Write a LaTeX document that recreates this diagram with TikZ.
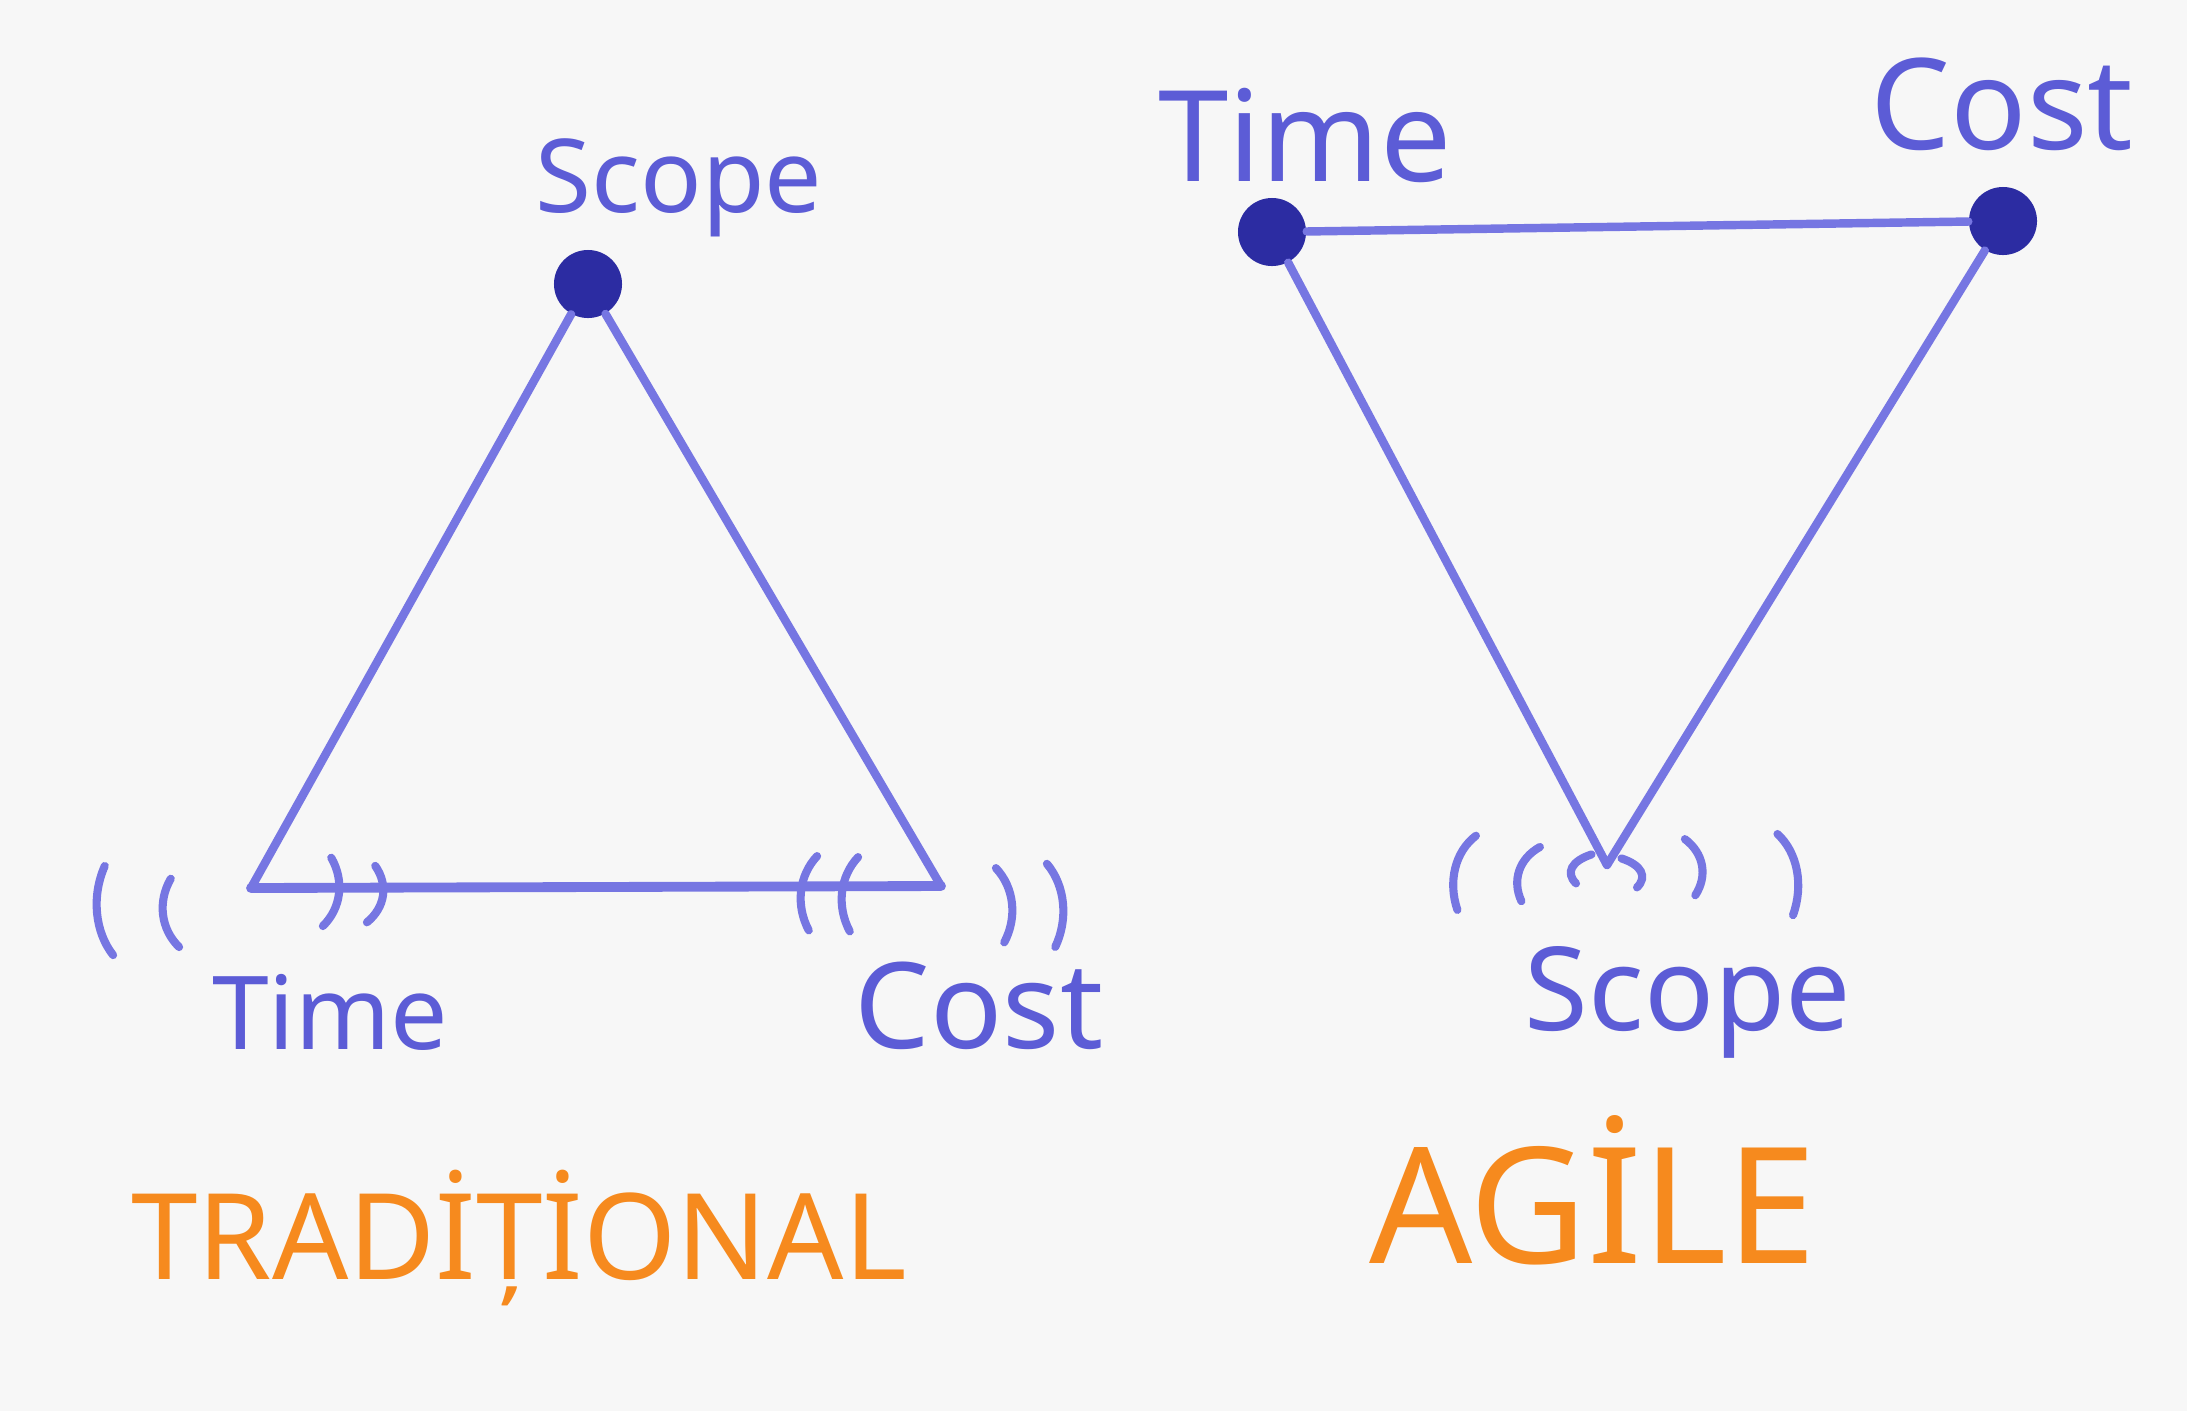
\documentclass[tikz,border=0pt]{standalone}
\usepackage{fontspec}
\setmainfont{Noto Sans}
\definecolor{paper}{HTML}{F7F7F7}
\definecolor{ink}{HTML}{7676E2}
\definecolor{inktext}{HTML}{5C5CD6}
\definecolor{inkdark}{HTML}{2C2CA2}
\definecolor{marker}{HTML}{F68A1E}
\tikzset{
  edge/.style={draw=ink, line width=2.4pt, line cap=round},
  vdot/.style={circle, fill=inkdark, minimum size=0.68cm, inner sep=0pt},
  paren/.style={draw=ink, line width=2.3pt, line cap=round},
  lbl/.style={text=inktext, inner sep=0pt},
  title/.style={text=marker, inner sep=0pt},
  lpar/.pic={\draw[paren] (7,-30) .. controls (-9,-12) and (-9,12) .. (7,30);},
  rpar/.pic={\draw[paren] (-7,-30) .. controls (9,-12) and (9,12) .. (-7,30);}
}
\begin{document}
\begin{tikzpicture}[x=0.01cm, y=-0.01cm]
\fill[paper] (0,0) rectangle (2187,1411);
\useasboundingbox (0,0) rectangle (2187,1411);

% ---------- Traditional triangle ----------
\node[vdot] (tS) at (588,284) {};
\coordinate (tT) at (251,888);
\coordinate (tC) at (941,886);
\draw[edge] (tS) -- (tT);
\draw[edge] (tS) -- (tC);
\draw[edge, line width=2.8pt] (tT) -- (tC);

\node[lbl, font=\fontsize{29}{34}\selectfont] (tSl) at (679,188) {Scope};
\node[lbl, font=\fontsize{29}{34}\selectfont] (tTl) at (330,1012) {Time};
\node[lbl, font=\fontsize{34}{40}\selectfont] (tCl) at (979,1006) {Cost};

% vibration marks, left vertex
\pic[yscale=1.5, rotate=8] at (102,912) {lpar};
\pic[yscale=1.15, rotate=8] at (168,914) {lpar};
\pic[yscale=1.15, rotate=-8] at (334,893) {rpar};
\pic[yscale=0.95, rotate=-8] at (378,895) {rpar};
% vibration marks, right vertex
\pic[yscale=1.25, rotate=-8] at (806,892) {lpar};
\pic[yscale=1.25, rotate=-8] at (847,893) {lpar};
\pic[yscale=1.25, rotate=8] at (1007,904) {rpar};
\pic[yscale=1.4, rotate=8] at (1058,904) {rpar};

\node[title, font=\fontsize{34}{40}\selectfont] (tTitle) at (519,1238) {TRADİȚİONAL};

% ---------- Agile triangle ----------
\node[vdot] (aT) at (1272,232) {};
\node[vdot] (aC) at (2003,221) {};
\coordinate (aS) at (1607,865);
\draw[edge] (aT) -- (aC);
\draw[edge] (aT) -- (aS);
\draw[edge] (aC) -- (aS);

\node[lbl, font=\fontsize{36}{42}\selectfont] (aTl) at (1305,135) {Time};
\node[lbl, font=\fontsize{36}{42}\selectfont] (aCl) at (2002,104) {Cost};
\node[lbl, font=\fontsize{33}{40}\selectfont] (aSl) at (1688,1002) {Scope};

% vibration marks, bottom vertex
\pic[yscale=1.3, rotate=-18] at (1460,870) {lpar};
\pic[yscale=0.95, rotate=-18] at (1524,872) {lpar};
\pic[yscale=0.5, rotate=-15] at (1577,868) {lpar};
\pic[yscale=0.5, rotate=15] at (1636,872) {rpar};
\pic[yscale=0.95, rotate=10] at (1697,866) {rpar};
\pic[yscale=1.4, rotate=15] at (1792,872) {rpar};

\node[title, font=\fontsize{46}{52}\selectfont] (aTitle) at (1593,1190) {AGİLE};
\end{tikzpicture}
\end{document}
